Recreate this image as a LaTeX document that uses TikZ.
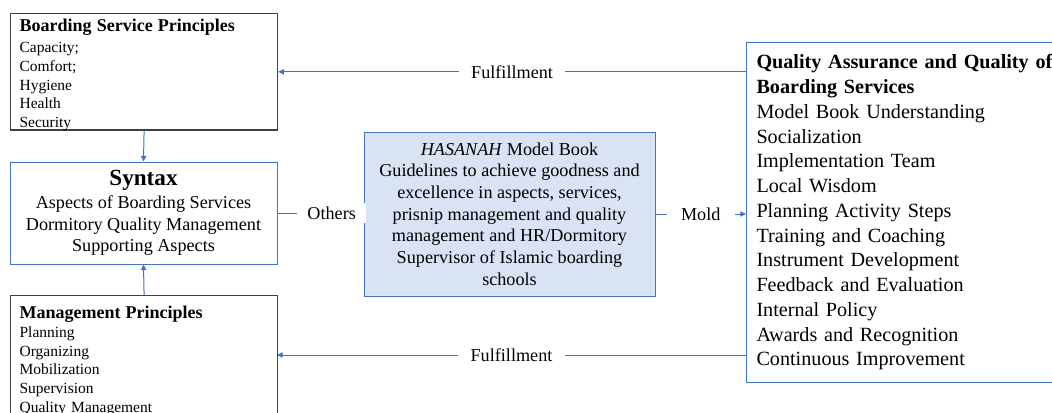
\documentclass[tikz,border=0pt]{standalone}
\usepackage{fontspec}
\setmainfont{Liberation Serif}
\usepackage{tikz}
\usetikzlibrary{arrows.meta}
\usepackage{xcolor}
\definecolor{lineBlue}{RGB}{68, 114, 196}
\definecolor{bookBlue}{RGB}{218, 227, 243}
\definecolor{boxGray}{RGB}{64, 64, 64}

\begin{document}
\begin{tikzpicture}[x=0.6pt, y=-0.6pt,
        grayBox/.style={draw=boxGray, line width=0.7pt, anchor=north west, align=left,
            inner xsep=5.4pt, text width=149.4pt, minimum width=160.2pt,
            font=\fontsize{9.3}{11.2}\selectfont},
        link/.style={draw=lineBlue, line width=0.6pt},
        arrow/.style={link, -{Triangle[length=3.4pt, width=3.2pt]}},
        tag/.style={fill=white, inner xsep=7.5pt, inner ysep=2pt, font=\fontsize{10.9}{13}\selectfont}]
        \clip (0, 0) rectangle (1052, 412);

        \node[grayBox, inner ysep=3.4pt, text depth=55.6pt] (service) at (10, 13)
            {{\fontsize{10.8}{11.2}\selectfont\bfseries Boarding Service Principles}\\[1.4pt]
             Capacity;\\Comfort;\\Hygiene\\Health\\Security};

        \node[draw=lineBlue, line width=0.6pt, align=center, minimum width=160.2pt, minimum height=61.2pt,
            font=\fontsize{10.9}{12.9}\selectfont] (syntax) at (143.5, 213)
            {{\fontsize{13.9}{12.9}\selectfont\bfseries Syntax}\\[0.9pt]
             Aspects of Boarding Services\\Dormitory Quality Management\\Supporting Aspects};

        \node[grayBox, inner ysep=6.4pt] (management) at (10, 295)
            {{\fontsize{10.8}{11.2}\selectfont\bfseries Management Principles}\\
             Planning\\Organizing\\Mobilization\\Supervision\\Quality Management};

        \node[draw=lineBlue, fill=bookBlue, line width=0.6pt, align=center, minimum width=174.6pt,
            minimum height=98.4pt, font=\fontsize{10.9}{13}\selectfont] (book) at (509.5, 214)
            {\textit{HASANAH} Model Book\\Guidelines to achieve goodness and\\excellence in aspects, services,\\
             prisnip management and quality\\management and HR/Dormitory\\Supervisor of Islamic boarding\\schools};

        \node[draw=lineBlue, line width=0.6pt, anchor=north west, align=left, inner xsep=6pt,
            text width=188.4pt, minimum width=200.4pt, minimum height=204pt,
            font=\fontsize{12.1}{14.85}\selectfont] (quality) at (746, 42)
            {\textbf{Quality Assurance and Quality of}\\\textbf{Boarding Services}\\
             Model Book Understanding\\Socialization\\Implementation Team\\Local Wisdom\\
             Planning Activity Steps\\Training and Coaching\\Instrument Development\\
             Feedback and Evaluation\\Internal Policy\\Awards and Recognition\\Continuous Improvement};

        \coordinate (lowEnd) at (277, 355);

        \draw[arrow] (service.south) -- (syntax.north);
        \draw[arrow] (management.north) -- (syntax.south);
        \draw[arrow] (quality.west |- service.east) -- node[tag] {Fulfillment} (service.east);
        \draw[arrow] (quality.west |- lowEnd) -- node[tag] {Fulfillment} (lowEnd);
        \draw[link] (syntax.east) -- node[tag, pos=0.63, inner xsep=6.3pt] {Others} (syntax.east -| book.west);
        \draw[arrow] (book.east) -- node[tag, inner xsep=8.7pt] {Mold} (book.east -| quality.west);
    \end{tikzpicture}
\end{document}
